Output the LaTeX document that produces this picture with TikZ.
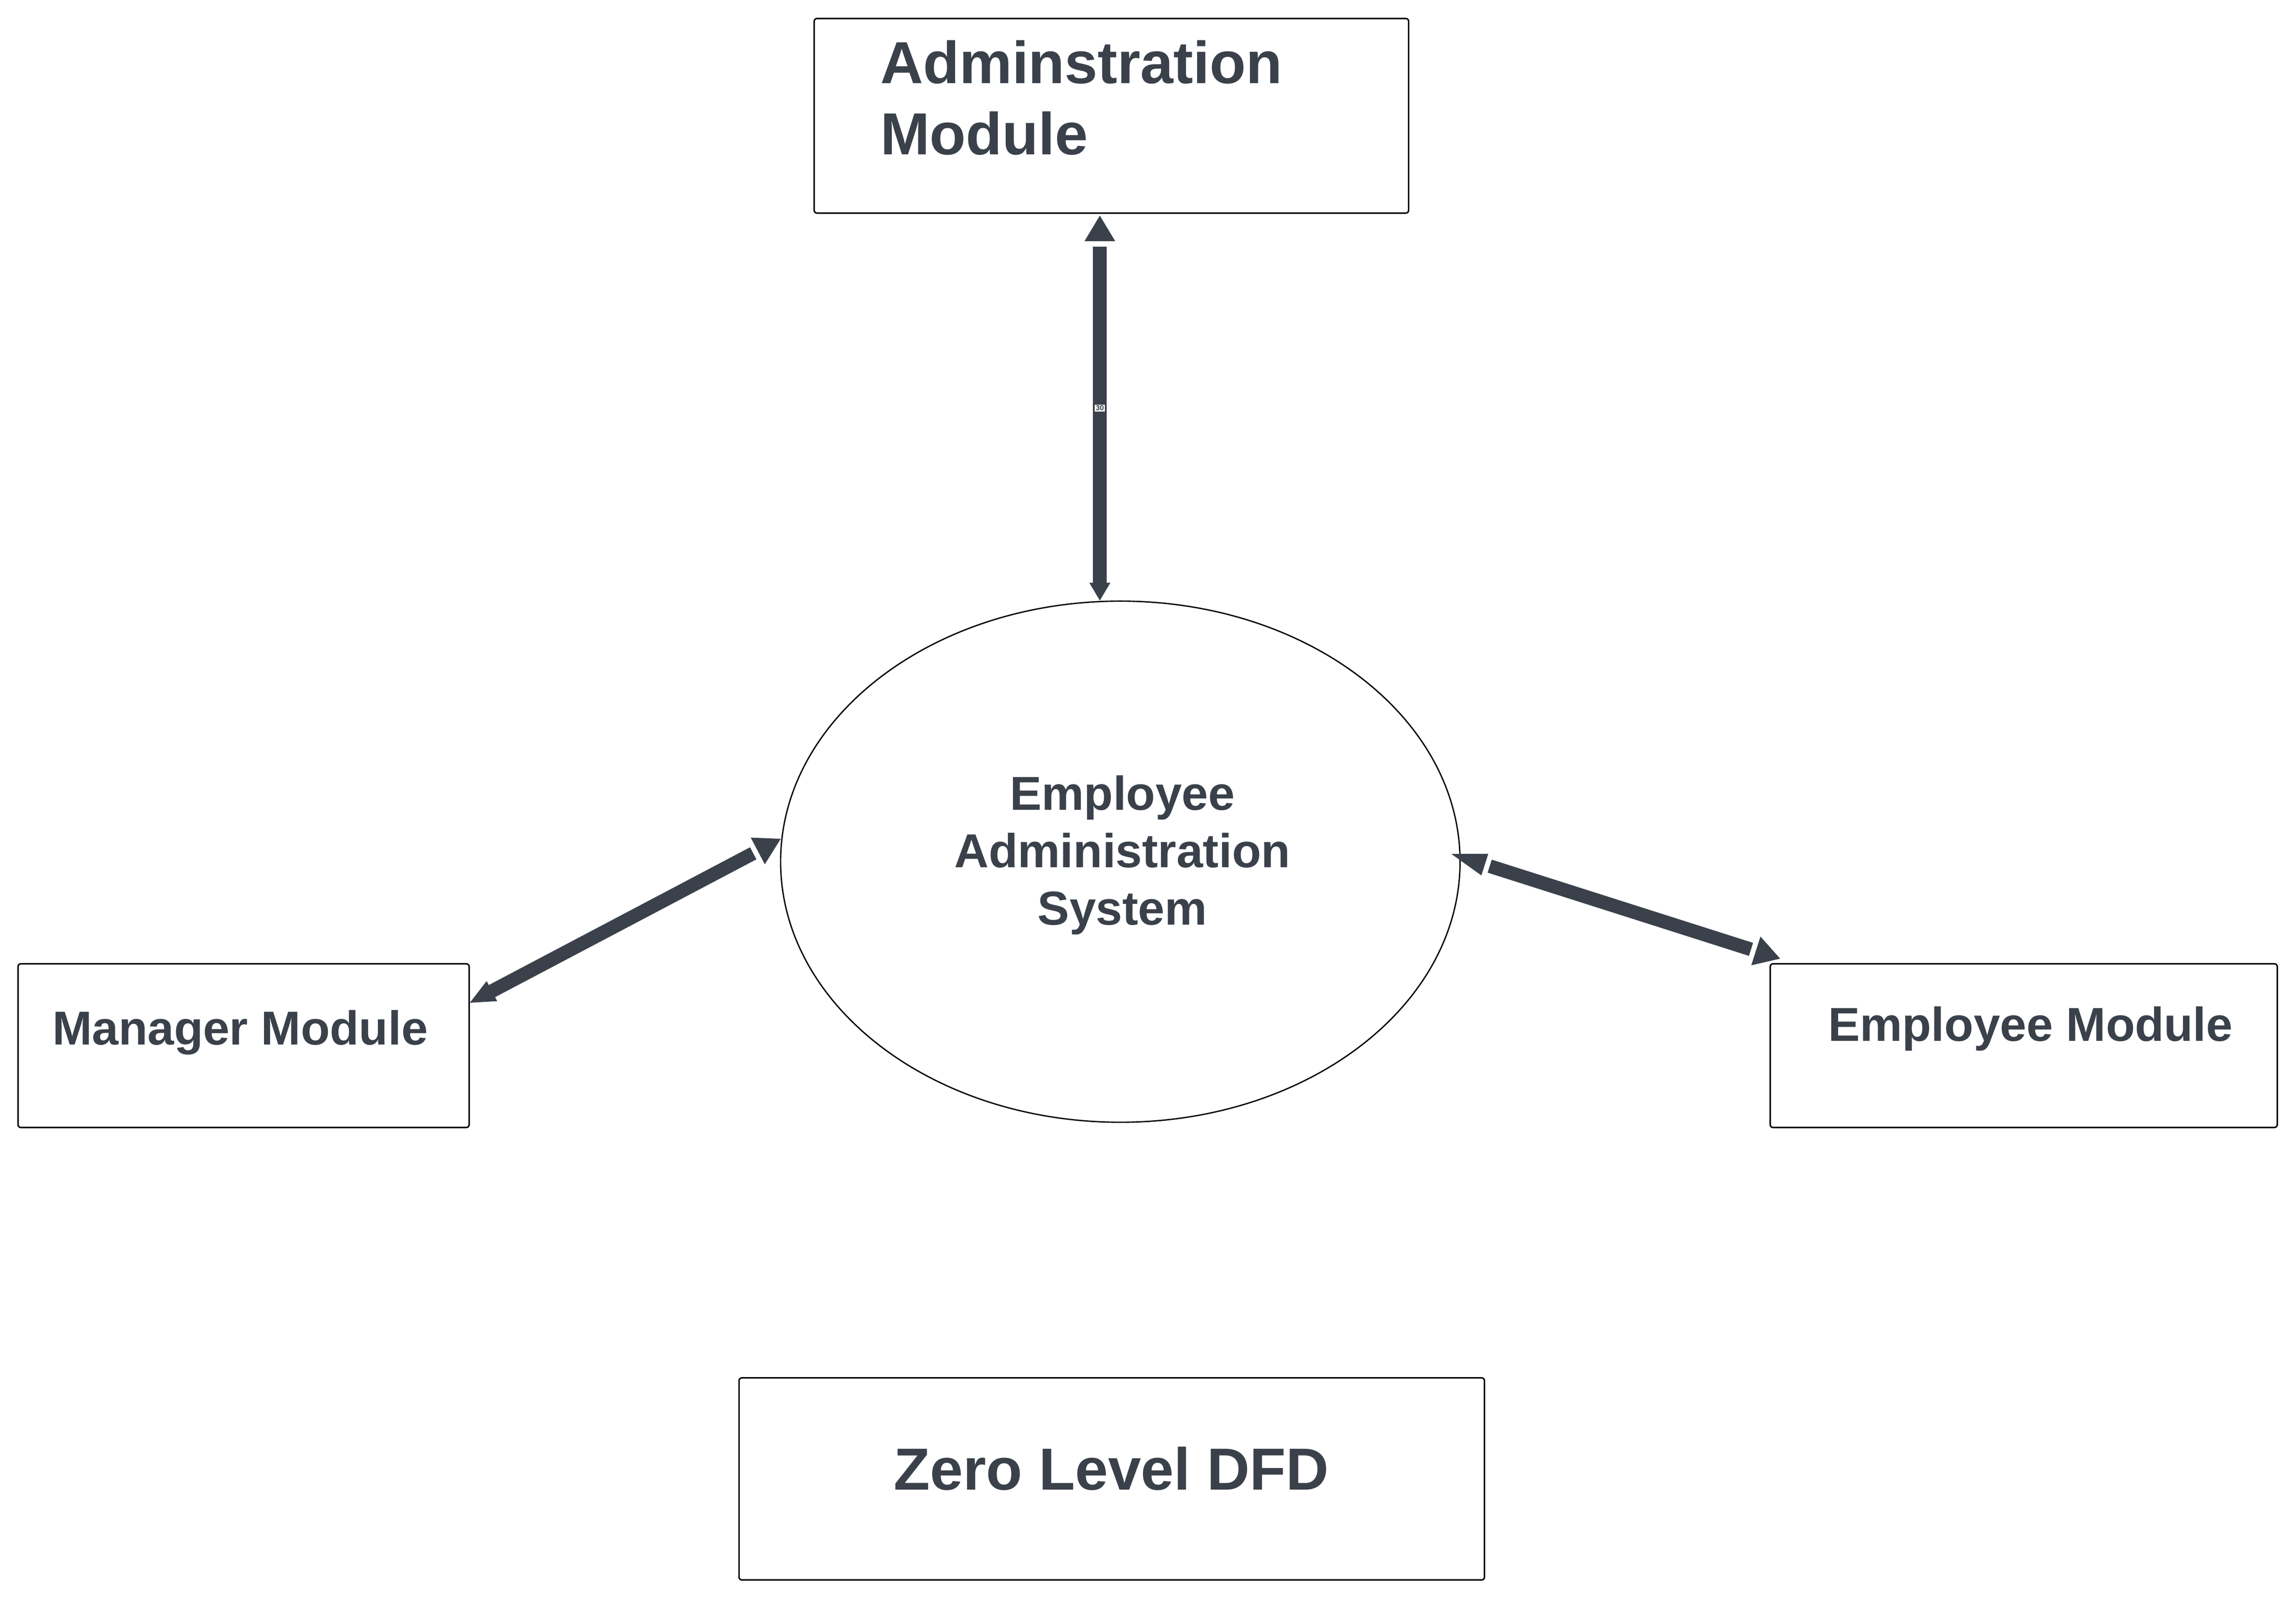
\documentclass[tikz,border=0pt]{standalone}
\usepackage{fontspec}
\setmainfont{Liberation Sans}
\usetikzlibrary{calc,shapes.geometric}
\definecolor{ink}{HTML}{3A414A}
\begin{document}
\begin{tikzpicture}[x=1pt,y=-1pt,
  box/.style={draw=black,line width=1pt,rounded corners=2pt,inner sep=0pt},
  bigtxt/.style={text=ink,font=\fontsize{40.5}{48.6}\selectfont\bfseries,inner sep=0pt},
  midtxt/.style={text=ink,font=\fontsize{32.5}{39.3}\selectfont\bfseries,inner sep=0pt,align=center},
  flow/.style={draw=ink,line width=9.3pt,line cap=butt},
  tipfill/.style={fill=ink},
  lbl/.style={fill=white,text=ink,inner sep=0.6pt,font=\fontsize{5}{5}\selectfont\bfseries}]
\useasboundingbox (0,0) rectangle (1568,1090.9);
\fill[white] (0,0) rectangle (1568,1090.9);
% shapes
\node[box,minimum width=406pt,minimum height=132.9pt] (adm) at (759,79.05) {};
\node[draw=black,line width=0.9pt,ellipse,inner sep=0pt,minimum width=464pt,minimum height=355.8pt] (ell) at (765.1,588.3) {};
\node[box,minimum width=308.1pt,minimum height=111.8pt] (mgr) at (166.35,713.9) {};
\node[box,minimum width=346.3pt,minimum height=111.8pt] (emp) at (1382.05,713.9) {};
\node[box,minimum width=509.1pt,minimum height=138pt] (dfd) at (759.25,1009.7) {};
% texts
\node[bigtxt,anchor=base west,align=left] (admt) at (601,105.5) {Adminstration\\Module};
\node[midtxt,anchor=base] (ellt) at (766.5,631.5) {Employee\\Administration\\System};
\node[midtxt,anchor=base] (mgrt) at (164,713.4) {Manager Module};
\node[midtxt,anchor=base] (empt) at (1386.7,710.8) {Employee Module};
\node[bigtxt,anchor=base] (dfdt) at (759,1017) {Zero Level DFD};
% connector end points on the nodes
\coordinate (vA) at ([shift={(-7.9pt,-1.2pt)}]adm.south);
\coordinate (vB) at ([xshift=-14pt]ell.north);
\coordinate (lA) at ([yshift=29.3pt]mgr.east);
\coordinate (lB) at ([shift={(0.5pt,15.6pt)}]ell.west);
\coordinate (rA) at ([shift={(-6.4pt,5.3pt)}]ell.east);
\coordinate (rB) at ([shift={(7.3pt,3pt)}]emp.north west);
% connectors: Administration Module <-> system
\draw[flow,shorten <=21.1pt,shorten >=11pt] (vA) -- node[lbl,midway] (l30) {30} (vB);
\fill[tipfill] (vA) -- ($(vA)!17.5pt!(vB)!10.5pt!90:(vB)$) -- ($(vA)!17.5pt!(vB)!10.5pt!-90:(vB)$) -- cycle;
\fill[tipfill] (vB) -- ($(vB)!12.1pt!(vA)!7.2pt!90:(vA)$) -- ($(vB)!12.1pt!(vA)!7.2pt!-90:(vA)$) -- cycle;
% Manager Module <-> system
\draw[flow,shorten <=15pt,shorten >=21.2pt] (lA) -- (lB);
\fill[tipfill] (lA) -- ($(lA)!17pt!(lB)!7.75pt!90:(lB)$) -- ($(lA)!17pt!(lB)!7.75pt!-90:(lB)$) -- cycle;
\fill[tipfill] (lB) -- ($(lB)!17.7pt!(lA)!10.3pt!90:(lA)$) -- ($(lB)!17.7pt!(lA)!10.3pt!-90:(lA)$) -- cycle;
% system <-> Employee Module
\draw[flow,shorten <=27.5pt,shorten >=20.9pt] (rA) -- (rB);
\fill[tipfill] (rA) -- ($(rA)!24pt!(rB)!7.75pt!90:(rB)$) -- ($(rA)!24pt!(rB)!7.75pt!-90:(rB)$) -- cycle;
\fill[tipfill] (rB) -- ($(rB)!17.4pt!(rA)!10.3pt!90:(rA)$) -- ($(rB)!17.4pt!(rA)!10.3pt!-90:(rA)$) -- cycle;
\end{tikzpicture}
\end{document}
